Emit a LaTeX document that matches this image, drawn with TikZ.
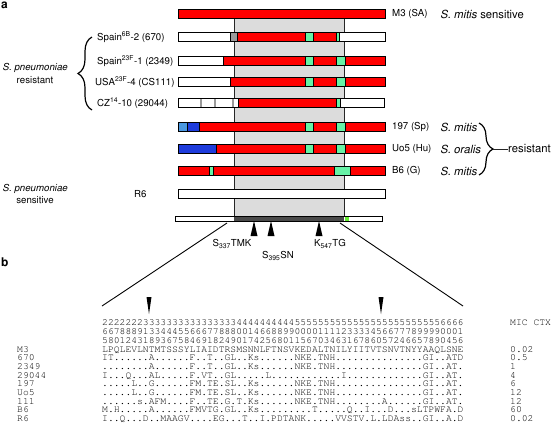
\documentclass[tikz,border=0pt]{standalone}
\usepackage[T1]{fontenc}
\usepackage{helvet}
\usepackage{courier}
\renewcommand{\familydefault}{\sfdefault}
\usetikzlibrary{decorations.pathreplacing}
\definecolor{pbRed}{HTML}{FF0000}
\definecolor{pbGreen}{HTML}{66F2A6}
\definecolor{pbLime}{HTML}{66EE33}
\definecolor{pbBlue}{HTML}{1E3CDC}
\definecolor{pbSky}{HTML}{4A98E0}
\definecolor{pbGrey}{HTML}{9A9A9A}
\definecolor{pbShade}{HTML}{DCDCDC}
\definecolor{pbDark}{HTML}{4A4A4A}
% aligned residues (dots kept out of the \foreach list)
\newcommand{\pbsA}{LPQLEVLNTMTSSSYLIAIDTRSMSNNLFTNSVKEDALTNILYIITVTSNVTNYYAAQLSNE}
\newcommand{\pbsB}{IT......A......F..T..GL..Ks......NKE.TNH...............GI..ATD}
\newcommand{\pbsC}{........A......F..T..GL..Ks......NKE.TNH...............GI..AT.}
\newcommand{\pbsD}{I...Q...AL.....F.VT..GL.....L............I.............GI..AT.}
\newcommand{\pbsE}{.....L..G......FM.TE.SL..Ks......NKE.TNH...............GI..AT.}
\newcommand{\pbsF}{.....L..G......FM.TE.SL..Ks......NKE.TNH...............GI..AT.}
\newcommand{\pbsG}{......s.AFM....F..TE.G.T.Ks......NKE.TNH........A......GI..AT.}
\newcommand{\pbsH}{M.H.....A......FMVTG.GL..Ks.........T.....Q..I...D...sLTPWFA.D}
\newcommand{\pbsI}{I..Q...D..MAAGV....EG...T..I.PDTANK.....VVSTV.L.LDAss..GI..A.D}
\tikzset{
 mosaic/.style={font=\sffamily\fontsize{9.7}{10}\selectfont,line join=miter},
 seg/.style={draw=black,line width=.8pt},
 edge/.style={draw=black!85,line width=.9pt},
 strain/.style={anchor=west,inner sep=0pt},
 species/.style={anchor=west,inner sep=0pt,font=\sffamily\fontsize{11.3}{12}\selectfont},
 group/.style={align=center,inner sep=0pt,font=\sffamily\fontsize{9.7}{13}\selectfont},
 curly/.style={decorate,decoration={brace,amplitude=#1},line width=1.2pt},
 fan/.style={draw=black,line width=.9pt},
 site/.style={inner sep=0pt},
 seqtxt/.style={anchor=west,inner sep=0pt,font=\ttfamily\fontsize{9.75}{9.75}\selectfont,
   text height=6.5bp,text depth=0pt},
 panel/.style={font=\sffamily\bfseries\fontsize{12}{12}\selectfont,anchor=base west,inner sep=0pt}
}
\begin{document}
\begin{tikzpicture}[mosaic,x=1bp,y=-1bp]
 \useasboundingbox (0,0) rectangle (552,430);
 % panel a
 \node[panel] (pa) at (1,8) {a};
 \fill[pbShade] (234,18) rectangle (344,217);
 \draw[edge] (234,18) -- (234,217) (344,18) -- (344,217);
 \foreach \yc/\segs in {
   14/{178/385/pbRed},
   37/{178/230/white,230/237/pbGrey,237/305/pbRed,305/313/pbGreen,313/336/pbRed,336/339/pbGreen,339/385/white},
   61/{178/223/white,223/305/pbRed,305/313/pbGreen,313/336/pbRed,336/345/pbGreen,345/385/pbRed},
   82/{178/230/white,230/305/pbRed,305/313/pbGreen,313/336/pbRed,336/345/pbGreen,345/385/pbRed},
   103/{178/238/white,238/336/pbRed,336/340/pbGreen,340/384/white},
   127/{178/187/pbSky,187/199/pbBlue,199/305/pbRed,305/313/pbGreen,313/336/pbRed,336/345/pbGreen,345/385/pbRed},
   149/{178/216/pbBlue,216/305/pbRed,305/313/pbGreen,313/336/pbRed,336/345/pbGreen,345/385/pbRed},
   171/{178/209/pbRed,209/213/pbGreen,213/334/pbRed,334/350/pbGreen,350/385/pbRed},
   194/{178/385/white}}{
   \foreach \a/\b/\c in \segs
     \filldraw[seg,fill=\c] (\a,\yc-4.7) rectangle (\b,\yc+4.7);
 }
 \foreach \x in {199.5,213.5,231.5}
   \fill[pbGrey] (\x,98.7) rectangle (\x+2.5,107.3);
 \draw[seg,fill=white] (175,216.5) rectangle (382,221.5);
 \fill[pbDark] (234,217) rectangle (344,221);
 \fill[pbLime] (344.5,217.2) rectangle (349,220.8);
 \foreach \x in {254,271,319}
   \fill (\x,221) -- (\x-3.5,236) -- (\x+3.5,236) -- cycle;
 \node[site] (s337) at (232,244) {S\textsubscript{337}TMK};
 \node[site] (s395) at (278,256) {S\textsubscript{395}SN};
 \node[site] (k547) at (330,244) {K\textsubscript{547}TG};
 % strain names
 \node[strain] (spain6b) at (97,37) {Spain\textsuperscript{6B}-2 (670)};
 \node[strain] (spain23f) at (97,61) {Spain\textsuperscript{23F}-1 (2349)};
 \node[strain] (usa23f) at (95,82) {USA\textsuperscript{23F}-4 (CS111)};
 \node[strain] (cz14) at (97,103) {CZ\textsuperscript{14}-10 (29044)};
 \node[strain] (r6) at (134,194) {R6};
 \node[strain] (m3) at (392,14) {M3 (SA)};
 \node[species] (mitS) at (440,14) {\textit{S. mitis} sensitive};
 \node[strain] (sp197) at (392,127) {197 (Sp)};
 \node[species] (mit1) at (440,127) {\textit{S. mitis}};
 \node[strain] (uo5) at (392,149) {Uo5 (Hu)};
 \node[species] (ora) at (440,149) {\textit{S. oralis}};
 \node[strain] (b6) at (392,171) {B6 (G)};
 \node[species] (mit2) at (440,171) {\textit{S. mitis}};
 \node[species] (resR) at (508,149) {resistant};
 \node[group] (pneuR) at (35,73.5) {\textit{S. pneumoniae}\\resistant};
 \node[group] (pneuS) at (35,194) {\textit{S. pneumoniae}\\sensitive};
 \draw[curly=14bp] (92,110) -- (92,37);
 \draw[curly=14bp] (479,123) -- (479,175);
 \coordinate (rtip) at (493,149);
 \draw[edge] (rtip) -- (resR.west);
 % panel b
 \node[panel] (pb) at (1,266) {b};
 \coordinate (fanL) at (227,223); \coordinate (fanR) at (340,223);
 \coordinate (seqL) at (102,306); \coordinate (seqR) at (463,306);
 \draw[fan] (fanL) -- (seqL);
 \draw[fan] (fanR) -- (seqR);
 \fill (146.5,297) -- (151.5,297) -- (149,314) -- cycle;
 \fill (378.5,297) -- (383.5,297) -- (381,314) -- cycle;
 \node[seqtxt] (hd1) at (102,322) {2222222%
3333333333333333%
4444444444%
5555555555555555555555555%
6666};
 \node[seqtxt] (hd2) at (102,331) {6678889%
133444556667788800146688990000%
1111233334566777899990001};
 \node[seqtxt] (hd3) at (102,340) {5801243189%
3675846918%
2490174256%
8011567034%
6316786057%
2466578904%
56};
 \node[seqtxt] (mictx) at (510,322) {MIC CTX};
 \foreach \nm/\sq/\mic [count=\i] in {M3/\pbsA/0.02, 670/\pbsB/0.5, 2349/\pbsC/1,
   29044/\pbsD/4, 197/\pbsE/6, Uo5/\pbsF/12, 111/\pbsG/12, B6/\pbsH/60, R6/\pbsI/0.02}{
   \node[seqtxt] (lab\i) at (17,{349+8.65*(\i-1)}) {\nm};
   \node[seqtxt] (seq\i) at (102,{349+8.65*(\i-1)}) {\sq};
   \node[seqtxt] (mic\i) at (510,{349+8.65*(\i-1)}) {\mic};
 }
\end{tikzpicture}
\end{document}
